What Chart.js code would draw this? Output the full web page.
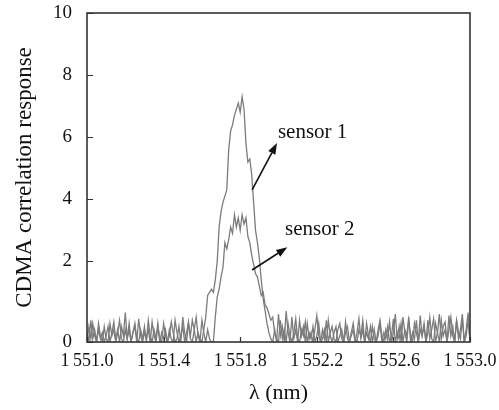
<!DOCTYPE html>
<html>
<head>
<meta charset="utf-8">
<script src="https://cdn.jsdelivr.net/npm/chart.js@4.4.1/dist/chart.umd.min.js"></script>
<style>
  html, body { margin: 0; padding: 0; background: #fff; }
  canvas { display: block; }
</style>
</head>
<body>
<canvas id="chart_cdma" width="499" height="410"></canvas>
<script>
// wavelength sampling (nm), 0.01 nm steps from 1551.00 to 1553.00
const lambdaStart = 1551.0;
const lambdaStep = 0.01;

// sensor 1 response
const sensor1 = [
  -0.6, -0.1, -0.5, 0.0, -0.4, -0.6, -0.2, -0.5, -0.3, -0.6,
  -0.4, -0.1, -0.6, -0.3, 0.05, -0.5, -0.2, -0.6, -0.1, -0.4,
  0.35, -0.5, -0.2, -0.6, -0.3, 0.0, -0.5, -0.6, -0.2, -0.5,
  -0.1, -0.6, 0.1, -0.4, -0.6, -0.2, -0.5, 0.0, -0.6, -0.3,
  -0.5, -0.2, -0.6, -0.4, 0.05, -0.3, -0.6, -0.5, -0.1, -0.6,
  0.2, -0.3, -0.6, 0.0, -0.4, 0.1, -0.2, -0.6, -0.3, -0.5,
  -0.6, -0.2, 0.2, 0.9, 1.0, 1.1, 1.0, 1.4, 2.0, 3.1,
  3.6, 3.9, 4.1, 4.3, 5.6, 6.2, 6.4, 6.7, 6.9, 7.1,
  6.8, 7.3, 6.9, 5.8, 5.2, 5.3, 4.8, 3.9, 3.0, 2.6,
  2.1, 1.4, 0.8, 0.4, 0.0, -0.3, -0.5, -0.6, -0.2, -0.6,
  0.3, -0.4, -0.1, -0.6, 0.4, -0.3, -0.6, 0.2, -0.5, -0.2,
  -0.6, 0.1, -0.4, -0.1, -0.6, 0.0, -0.5, -0.3, -0.6, -0.2,
  0.25, -0.4, -0.6, -0.2, -0.5, 0.1, -0.6, -0.3, -0.1, -0.5,
  -0.6, -0.2, 0.0, -0.5, -0.6, -0.3, -0.1, -0.6, -0.4, -0.2,
  -0.6, -0.3, 0.15, -0.5, -0.2, -0.6, 0.0, -0.4, -0.6, -0.1,
  -0.5, -0.6, -0.2, 0.1, -0.4, -0.6, -0.2, -0.5, 0.05, -0.6,
  -0.3, 0.3, -0.5, -0.1, -0.6, 0.2, -0.3, -0.6, 0.1, -0.4,
  -0.6, 0.0, -0.3, -0.6, 0.25, -0.4, -0.1, -0.6, 0.1, -0.5,
  -0.2, 0.15, -0.6, -0.3, 0.3, -0.5, -0.1, 0.05, -0.6, -0.2,
  0.2, -0.4, -0.6, 0.1, -0.3, -0.5, 0.15, -0.6, -0.2, 0.35,
  -0.6
];

// sensor 2 response
const sensor2 = [
  -0.3, -0.6, 0.1, -0.5, -0.2, -0.6, 0.0, -0.4, -0.6, -0.1,
  -0.5, -0.6, 0.0, -0.4, -0.2, -0.6, -0.3, 0.1, -0.5, -0.6,
  -0.2, -0.5, 0.0, -0.6, -0.3, -0.1, -0.6, 0.15, -0.4, -0.6,
  -0.3, -0.5, -0.2, -0.6, 0.05, -0.4, -0.6, -0.1, -0.5, -0.6,
  0.0, -0.4, -0.6, -0.2, -0.5, -0.6, 0.1, -0.3, -0.6, -0.4,
  -0.1, -0.6, -0.3, 0.05, -0.5, -0.6, -0.2, 0.2, -0.4, -0.6,
  0.1, -0.3, -0.6, -0.2, -0.5, -0.6, -0.6, 0.2, 0.85, 1.1,
  1.5, 1.8, 2.6, 2.4, 2.7, 3.1, 2.9, 3.5, 3.1, 3.4,
  3.0, 3.5, 3.2, 3.4, 2.8, 2.6, 2.2, 1.9, 1.6, 1.5,
  1.2, 0.9, 1.0, 0.6, 0.5, 0.3, 0.1, 0.2, -0.3, -0.5,
  -0.6, 0.1, -0.5, -0.2, -0.6, 0.0, -0.4, -0.6, -0.3, 0.15,
  -0.5, -0.6, -0.2, -0.4, 0.05, -0.6, -0.3, -0.5, -0.1, -0.6,
  -0.4, 0.0, -0.6, -0.5, -0.2, -0.6, 0.1, -0.4, -0.6, -0.3,
  -0.1, -0.6, -0.4, -0.2, -0.6, 0.05, -0.5, -0.6, -0.3, 0.0,
  -0.5, -0.6, -0.2, -0.4, 0.1, -0.6, -0.3, -0.5, -0.1, -0.6,
  -0.2, -0.6, -0.4, 0.0, -0.6, -0.3, -0.5, -0.1, -0.6, -0.4,
  0.15, -0.6, -0.3, -0.5, 0.0, -0.6, -0.2, -0.4, 0.2, -0.6,
  -0.3, -0.5, 0.1, -0.6, -0.2, -0.4, 0.0, -0.6, -0.3, 0.2,
  -0.5, -0.6, 0.0, -0.3, -0.6, 0.1, -0.4, -0.2, -0.6, 0.25,
  -0.4, -0.1, -0.6, 0.1, -0.5, -0.2, 0.3, -0.6, -0.4, 0.1,
  -0.5
];

// axis ticks (the bottom of the y axis carries the "0" label)
const xTicks = [1551.0, 1551.4, 1551.8, 1552.2, 1552.6, 1553.0];
const xTickLabels = ['1\u2009551.0', '1\u2009551.4', '1\u2009551.8', '1\u2009552.2', '1\u2009552.6', '1\u2009553.0'];
const yTicks = [-0.6, 2, 4, 6, 8, 10];
const yTickLabels = ['0', '2', '4', '6', '8', '10'];

// annotations: label text, text anchor, arrow start and arrow tip (data units)
const notes = [
  { text: 'sensor 1', at: [1551.997, 5.97], from: [1551.862, 4.30], to: [1551.992, 5.81] },
  { text: 'sensor 2', at: [1552.034, 2.85], from: [1551.862, 1.72], to: [1552.046, 2.45] }
];

const toPoints = arr => arr.map((v, i) => ({ x: lambdaStart + i * lambdaStep, y: v }));

const serif = '"Liberation Serif", "Times New Roman", serif';

const framePlugin = {
  id: 'frame',
  afterDraw(chart) {
    const { ctx, chartArea: a, scales } = chart;
    ctx.save();
    // inner ticks
    ctx.strokeStyle = '#333';
    ctx.lineWidth = 1.2;
    ctx.beginPath();
    xTicks.forEach(v => {
      const px = Math.round(scales.x.getPixelForValue(v)) + 0.5;
      ctx.moveTo(px, a.bottom);
      ctx.lineTo(px, a.bottom - 5);
    });
    yTicks.forEach(v => {
      const py = Math.round(scales.y.getPixelForValue(v)) + 0.5;
      ctx.moveTo(a.left, py);
      ctx.lineTo(a.left + 6, py);
    });
    ctx.stroke();
    // box
    ctx.lineWidth = 1.6;
    ctx.strokeRect(a.left, a.top, a.right - a.left, a.bottom - a.top);

    // arrows and labels
    ctx.strokeStyle = '#111';
    ctx.fillStyle = '#111';
    ctx.lineWidth = 1.6;
    notes.forEach(n => {
      const x0 = scales.x.getPixelForValue(n.from[0]);
      const y0 = scales.y.getPixelForValue(n.from[1]);
      const x1 = scales.x.getPixelForValue(n.to[0]);
      const y1 = scales.y.getPixelForValue(n.to[1]);
      const ang = Math.atan2(y1 - y0, x1 - x0);
      const headLen = 11, headW = 4;
      const bx = x1 - headLen * Math.cos(ang);
      const by = y1 - headLen * Math.sin(ang);
      ctx.beginPath();
      ctx.moveTo(x0, y0);
      ctx.lineTo(bx, by);
      ctx.stroke();
      ctx.beginPath();
      ctx.moveTo(x1, y1);
      ctx.lineTo(bx + headW * Math.sin(ang), by - headW * Math.cos(ang));
      ctx.lineTo(bx - headW * Math.sin(ang), by + headW * Math.cos(ang));
      ctx.closePath();
      ctx.fill();

      ctx.font = '21px ' + serif;
      ctx.textAlign = 'left';
      ctx.textBaseline = 'alphabetic';
      ctx.fillText(n.text, scales.x.getPixelForValue(n.at[0]), scales.y.getPixelForValue(n.at[1]));
    });
    ctx.restore();
  }
};

const lineStyle = {
  borderColor: '#7c7c7c',
  borderWidth: 1.3,
  pointRadius: 0,
  tension: 0,
  fill: false
};

const ctxCdma = document.getElementById('chart_cdma');
const cdmaChart = new Chart(ctxCdma, {
  type: 'line',
  data: {
    datasets: [
      Object.assign({ label: 'sensor 1', data: toPoints(sensor1) }, lineStyle),
      Object.assign({ label: 'sensor 2', data: toPoints(sensor2) }, lineStyle)
    ]
  },
  options: {
    responsive: false,
    animation: false,
    layout: { padding: { top: 13, right: 29, left: 0, bottom: 0 } },
    plugins: {
      legend: { display: false },
      tooltip: { enabled: false }
    },
    scales: {
      x: {
        type: 'linear',
        min: 1551.0,
        max: 1553.0,
        afterBuildTicks: s => { s.ticks = xTicks.map(v => ({ value: v })); },
        afterFit: s => { s.height = 68; s.paddingLeft = 0; s.paddingRight = 0; },
        grid: { display: false, drawTicks: false },
        border: { display: false },
        ticks: {
          padding: 8,
          color: '#111',
          font: { family: serif, size: 18 },
          maxRotation: 0,
          callback: v => xTickLabels[xTicks.indexOf(v)]
        },
        title: {
          display: true,
          text: 'λ (nm)',
          color: '#111',
          font: { family: serif, size: 22 },
          padding: { top: 0, bottom: 4 }
        }
      },
      y: {
        min: -0.6,
        max: 10,
        afterBuildTicks: s => { s.ticks = yTicks.map(v => ({ value: v })); },
        afterFit: s => { s.width = 87; s.paddingTop = 0; s.paddingBottom = 0; },
        grid: { display: false, drawTicks: false },
        border: { display: false },
        ticks: {
          padding: 15,
          color: '#111',
          font: { family: serif, size: 19 },
          callback: v => yTickLabels[yTicks.indexOf(v)]
        },
        title: {
          display: true,
          text: 'CDMA correlation response',
          color: '#111',
          font: { family: serif, size: 23 },
          padding: { top: 11, bottom: 0 }
        }
      }
    }
  },
  plugins: [framePlugin]
});
</script>
</body>
</html>
